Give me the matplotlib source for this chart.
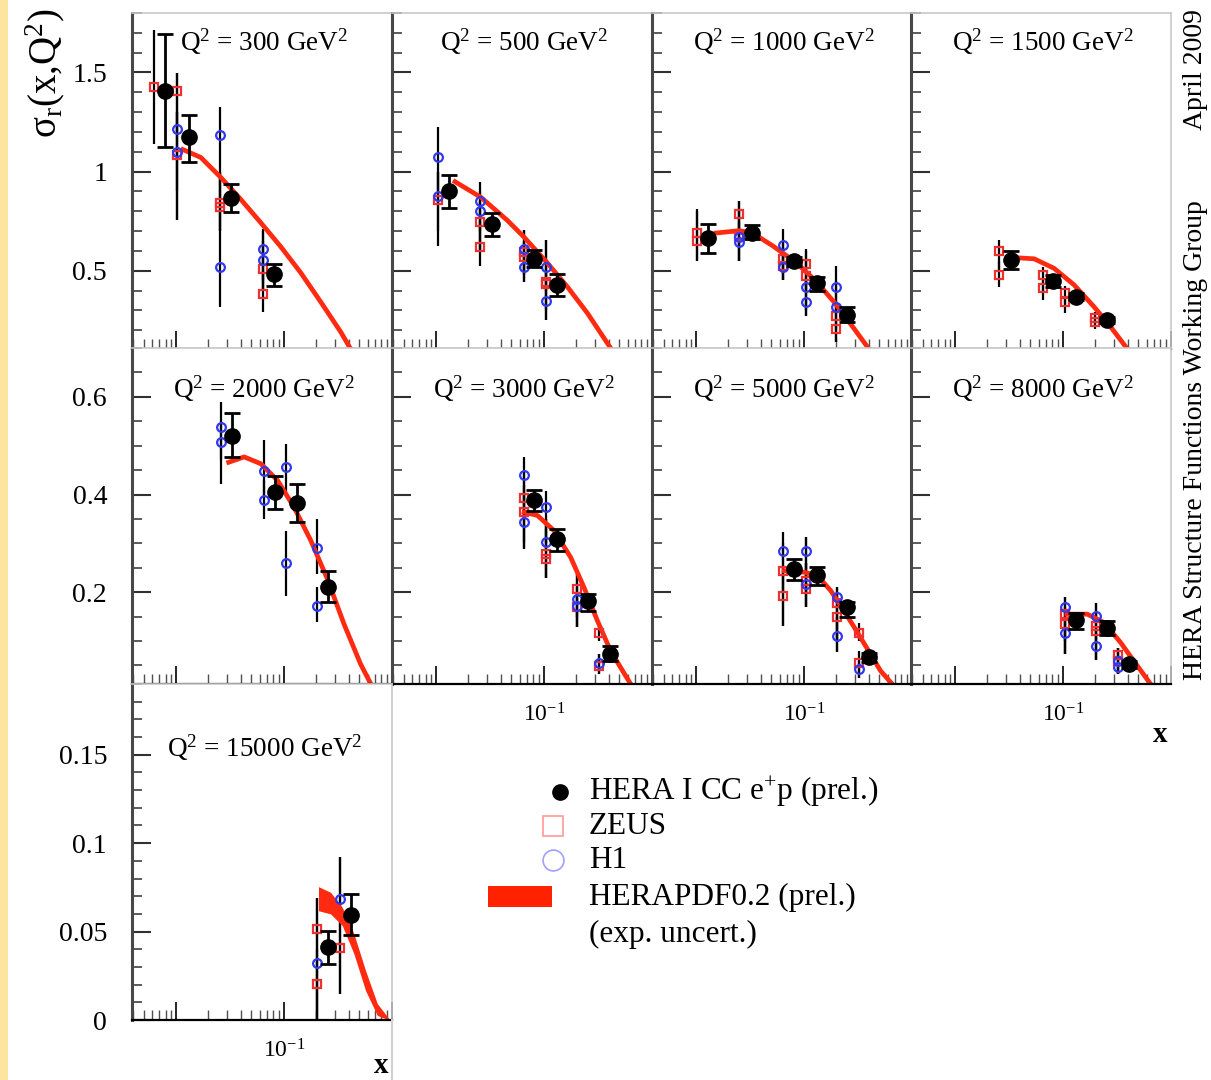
import numpy as np
import matplotlib
matplotlib.use("Agg")
import matplotlib.pyplot as plt
from matplotlib.ticker import FixedLocator, MultipleLocator, LogLocator, FuncFormatter, NullFormatter
from matplotlib.patches import Rectangle
from matplotlib.lines import Line2D

plt.rcParams['font.family'] = ['Liberation Serif', 'DejaVu Serif']
plt.rcParams['mathtext.fontset'] = 'custom'
plt.rcParams['mathtext.rm'] = 'Liberation Serif'
plt.rcParams['mathtext.it'] = 'Liberation Serif:italic'
plt.rcParams['mathtext.bf'] = 'Liberation Serif:bold'
plt.rcParams['mathtext.default'] = 'rm'

# Q2 bins, one panel each
q2_labels = ["300", "500", "1000", "1500", "2000", "3000", "5000", "8000", "15000"]

# HERA combined CC e+p points
hera_x = [[0.0079, 0.0132, 0.0323, 0.0807],
          [0.0131, 0.033, 0.0813, 0.134],
          [0.013, 0.0328, 0.0813, 0.132, 0.254],
          [0.033, 0.082, 0.132, 0.26],
          [0.0328, 0.0826, 0.134, 0.259],
          [0.0813, 0.134, 0.257, 0.414],
          [0.0813, 0.134, 0.254, 0.405],
          [0.132, 0.256, 0.411],
          [0.259, 0.417]]
hera_y = [[1.409, 1.172, 0.869, 0.485],
          [0.90, 0.736, 0.559, 0.429],
          [0.665, 0.69, 0.547, 0.436, 0.278],
          [0.554, 0.449, 0.369, 0.251],
          [0.52, 0.405, 0.383, 0.21],
          [0.388, 0.308, 0.181, 0.074],
          [0.248, 0.235, 0.169, 0.067],
          [0.144, 0.126, 0.052],
          [0.0412, 0.0594]]
hera_lo = [[1.126, 1.05, 0.798, 0.424],
           [0.817, 0.673, 0.517, 0.374],
           [0.587, 0.66, 0.525, 0.399, 0.239],
           [0.509, 0.416, 0.35, 0.235],
           [0.477, 0.371, 0.343, 0.179],
           [0.367, 0.285, 0.162, 0.06],
           [0.225, 0.215, 0.15, 0.058],
           [0.124, 0.113, 0.045],
           [0.0318, 0.0478]]
hera_hi = [[1.692, 1.283, 0.939, 0.535],
           [0.983, 0.791, 0.605, 0.483],
           [0.736, 0.732, 0.57, 0.466, 0.315],
           [0.601, 0.48, 0.39, 0.267],
           [0.566, 0.437, 0.422, 0.243],
           [0.41, 0.33, 0.196, 0.09],
           [0.268, 0.252, 0.179, 0.076],
           [0.158, 0.14, 0.059],
           [0.0506, 0.0713]]

# ZEUS points
zeus_x = [[0.00625, 0.0102, 0.0102, 0.0255, 0.0255, 0.064, 0.064],
          [0.0104, 0.0255, 0.0255, 0.065, 0.065, 0.104, 0.104],
          [0.0102, 0.0102, 0.0252, 0.0252, 0.0635, 0.0635, 0.104, 0.104, 0.199, 0.199],
          [0.0257, 0.0257, 0.0649, 0.0649, 0.105, 0.105, 0.2, 0.2],
          [],
          [0.0649, 0.0649, 0.1043, 0.1043, 0.205, 0.205, 0.325, 0.325],
          [0.0644, 0.0644, 0.104, 0.104, 0.202, 0.202, 0.325, 0.325],
          [0.105, 0.105, 0.202, 0.202, 0.325, 0.325],
          [0.205, 0.205, 0.330]]
zeus_y = [[1.429, 1.404, 1.086, 0.843, 0.823, 0.51, 0.384],
          [0.857, 0.744, 0.618, 0.592, 0.567, 0.441, 0.434],
          [0.690, 0.652, 0.786, 0.677, 0.559, 0.525, 0.534, 0.475, 0.273, 0.206],
          [0.601, 0.48, 0.48, 0.413, 0.39, 0.34, 0.261, 0.239],
          [],
          [0.393, 0.364, 0.278, 0.268, 0.206, 0.169, 0.116, 0.049],
          [0.243, 0.193, 0.222, 0.206, 0.177, 0.15, 0.117, 0.056],
          [0.155, 0.134, 0.131, 0.121, 0.072, 0.059],
          [0.0515, 0.0205, 0.0408]]
zeus_lo = [[1.141, 1.2, 0.758, 0.7, 0.7, 0.4, 0.293],
           [0.7, 0.6, 0.525, 0.48, 0.444, 0.3, 0.251],
           [0.55, 0.55, 0.7, 0.55, 0.455, 0.455, 0.4, 0.273, 0.2, 0.138],
           [0.5, 0.419, 0.4, 0.354, 0.33, 0.289, 0.23, 0.205],
           [],
           [0.3, 0.289, 0.23, 0.23, 0.15, 0.128, 0.1, 0.032],
           [0.131, 0.131, 0.169, 0.169, 0.077, 0.1, 0.1, 0.024],
           [0.073, 0.073, 0.062, 0.062, 0.032, 0.032],
           [0.0, 0.0, 0.0149]]
zeus_hi = [[1.712, 1.495, 1.3, 1.0, 1.0, 0.65, 0.5],
           [1.0, 0.85, 0.75, 0.706, 0.65, 0.56, 0.655],
           [0.812, 0.8, 0.854, 0.8, 0.65, 0.62, 0.61, 0.6, 0.35, 0.3],
           [0.655, 0.55, 0.517, 0.45, 0.424, 0.37, 0.29, 0.27],
           [],
           [0.45, 0.42, 0.35, 0.33, 0.237, 0.2, 0.13, 0.073],
           [0.3, 0.25, 0.312, 0.26, 0.21, 0.2, 0.137, 0.08],
           [0.19, 0.17, 0.177, 0.16, 0.086, 0.086],
           [0.069, 0.04, 0.0919]]

# H1 points
h1_x = [[0.0102, 0.0102, 0.0255, 0.0255, 0.064, 0.064],
        [0.0104, 0.0104, 0.0255, 0.0255, 0.065, 0.065, 0.104, 0.104],
        [0.0252, 0.0252, 0.0635, 0.0635, 0.104, 0.104, 0.199, 0.199],
        [],
        [0.0261, 0.0261, 0.0658, 0.0658, 0.104, 0.104, 0.205, 0.205],
        [0.0649, 0.0649, 0.1043, 0.1043, 0.205, 0.205, 0.325],
        [0.0644, 0.104, 0.104, 0.202, 0.202, 0.325],
        [0.105, 0.105, 0.202, 0.202, 0.325, 0.325],
        [0.205, 0.330]]
h1_y = [[1.217, 1.101, 1.187, 0.52, 0.611, 0.556],
        [1.072, 0.879, 0.854, 0.80, 0.61, 0.517, 0.517, 0.348],
        [0.668, 0.643, 0.63, 0.52, 0.416, 0.34, 0.416, 0.318],
        [],
        [0.539, 0.507, 0.449, 0.389, 0.456, 0.259, 0.291, 0.172],
        [0.44, 0.343, 0.374, 0.302, 0.186, 0.172, 0.054],
        [0.285, 0.284, 0.217, 0.191, 0.111, 0.042],
        [0.169, 0.117, 0.152, 0.09, 0.059, 0.046],
        [0.0321, 0.0684]]
h1_lo = [[0.9, 0.758, 0.86, 0.318, 0.45, 0.4],
         [0.9, 0.626, 0.7, 0.6, 0.5, 0.444, 0.4, 0.251],
         [0.55, 0.55, 0.5, 0.455, 0.3, 0.273, 0.3, 0.138],
         [],
         [0.47, 0.422, 0.40, 0.35, 0.40, 0.193, 0.237, 0.138],
         [0.35, 0.289, 0.3, 0.23, 0.128, 0.128, 0.032],
         [0.2, 0.2, 0.169, 0.1, 0.077, 0.024],
         [0.1, 0.073, 0.1, 0.062, 0.032, 0.032],
         [0.0, 0.0149]]
h1_hi = [[1.495, 1.3, 1.328, 0.84, 0.712, 0.7],
         [1.224, 1.0, 0.946, 0.9, 0.706, 0.6, 0.655, 0.5],
         [0.854, 0.75, 0.71, 0.6, 0.55, 0.45, 0.525, 0.45],
         [],
         [0.589, 0.55, 0.511, 0.43, 0.504, 0.326, 0.35, 0.21],
         [0.477, 0.4, 0.408, 0.35, 0.237, 0.21, 0.073],
         [0.323, 0.312, 0.26, 0.21, 0.15, 0.06],
         [0.19, 0.15, 0.177, 0.13, 0.086, 0.07],
         [0.069, 0.0919]]

# HERAPDF0.2 curve (panels 1-8, narrow band)
pdf_x = [[0.0116, 0.017, 0.0261, 0.040, 0.0612, 0.0938, 0.1436, 0.220, 0.337, 0.417],
         [0.015, 0.0261, 0.0461, 0.0657, 0.108, 0.166, 0.254, 0.417],
         [0.0153, 0.0252, 0.0335, 0.0513, 0.0843, 0.129, 0.198, 0.303, 0.403],
         [0.033, 0.0542, 0.083, 0.127, 0.195, 0.278, 0.397],
         [0.0308, 0.0429, 0.0612, 0.0875, 0.1245, 0.178, 0.254, 0.362, 0.516, 0.64],
         [0.0657, 0.0875, 0.1245, 0.178, 0.236, 0.314, 0.417, 0.516, 0.64],
         [0.0658, 0.1, 0.134, 0.178, 0.236, 0.314, 0.417, 0.516, 0.662],
         [0.109, 0.169, 0.241, 0.344, 0.457, 0.653]]
pdf_y = [[1.111, 1.071, 0.970, 0.859, 0.742, 0.621, 0.490, 0.343, 0.192, 0.106],
         [0.949, 0.870, 0.753, 0.669, 0.539, 0.418, 0.286, 0.110],
         [0.69, 0.702, 0.69, 0.626, 0.542, 0.449, 0.332, 0.197, 0.105],
         [0.567, 0.560, 0.512, 0.429, 0.318, 0.217, 0.106],
         [0.466, 0.477, 0.463, 0.429, 0.374, 0.306, 0.227, 0.135, 0.053, 0.013],
         [0.364, 0.357, 0.326, 0.271, 0.21, 0.142, 0.08, 0.046, 0.012],
         [0.244, 0.241, 0.234, 0.203, 0.162, 0.118, 0.073, 0.039, 0.012],
         [0.155, 0.155, 0.138, 0.097, 0.059, 0.012]]
# wide band in the Q2 = 15000 panel
band_x = [0.21, 0.272, 0.349, 0.448, 0.574, 0.738, 0.945]
band_lo = [0.0618, 0.06, 0.0534, 0.0374, 0.0167, 0.0026, 0.0]
band_hi = [0.0754, 0.0722, 0.0637, 0.0487, 0.028, 0.0093, 0.0008]

row_ylim = [(0.105, 1.8), (0.012, 0.70), (0.0, 0.19)]
row_major = [[0.5, 1.0, 1.5], [0.2, 0.4, 0.6], [0.0, 0.05, 0.1, 0.15]]
row_major_labels = [["0.5", "1", "1.5"], ["0.2", "0.4", "0.6"], ["0", "0.05", "0.1", "0.15"]]
row_minor = [0.1, 0.05, 0.01]
row_title_y = [0.915, 0.88, 0.81]

W, H = 1211, 1080
col_left = [132, 392, 652, 911]
row_top = [13, 348, 684]
pw, ph = 259.5, 336

RED = '#ff2a10'
ZRED = '#f03030'
HBLUE = '#3038f0'

fig = plt.figure(figsize=(W / 100, H / 100), dpi=100)

# yellow frame strip on the left
fig.patches.append(Rectangle((0, 0), 8 / W, 1, transform=fig.transFigure,
                             facecolor='#fce5a0', edgecolor='none', zorder=0))


def xfmt(v, pos):
    if abs(np.log10(v) + 1) < 1e-6:
        return r'10$^{-1}$'
    return ''


for p in range(9):
    row, col = p // 4, p % 4
    l = col_left[col] / W
    b = 1 - (row_top[row] + ph) / H
    ax = fig.add_axes([l, b, pw / W, ph / H])
    ax.set_xscale('log')
    ax.set_xlim(0.0039, 1.0)
    ax.set_ylim(*row_ylim[row])

    # ZEUS / H1 error bars and markers
    ax.vlines(zeus_x[p], zeus_lo[p], zeus_hi[p], color='k', lw=1.6, zorder=2)
    ax.vlines(h1_x[p], h1_lo[p], h1_hi[p], color='k', lw=1.6, zorder=2)

    if p < 8:
        ax.plot(pdf_x[p], pdf_y[p], color=RED, lw=3.4, zorder=2.5,
                solid_joinstyle='round')
    else:
        ax.fill_between(band_x, band_lo, band_hi, color=RED, lw=0, zorder=2.5)

    ax.plot(zeus_x[p], zeus_y[p], 's', ms=6.3, mfc='none', mec=ZRED, mew=1.6, zorder=3)
    ax.plot(h1_x[p], h1_y[p], 'o', ms=6.3, mfc='none', mec=HBLUE, mew=1.6, zorder=3)

    hy = np.array(hera_y[p])
    yerr = [hy - np.array(hera_lo[p]), np.array(hera_hi[p]) - hy]
    ax.errorbar(hera_x[p], hy, yerr=yerr, fmt='o', color='k', ms=11,
                elinewidth=2, capsize=5.5, capthick=2, zorder=4)

    ax.text(0.51, row_title_y[row], 'Q$^2$ = %s GeV$^2$' % q2_labels[p],
            transform=ax.transAxes, ha='center', va='center', fontsize=19.5)

    # ticks
    ax.yaxis.set_major_locator(FixedLocator(row_major[row]))
    ax.yaxis.set_minor_locator(MultipleLocator(row_minor[row]))
    ax.xaxis.set_major_locator(LogLocator(base=10))
    ax.xaxis.set_minor_locator(LogLocator(base=10, subs=np.arange(2, 10)))
    ax.xaxis.set_minor_formatter(NullFormatter())
    ax.tick_params(axis='y', which='major', direction='in', length=14, width=1.5,
                   color='#303030', labelsize=20, pad=18)
    ax.tick_params(axis='y', which='minor', direction='in', length=7.5, width=1.2,
                   color='#404040')
    ax.tick_params(axis='x', which='major', direction='in', length=13, width=1.2,
                   labelsize=17, pad=14)
    ax.tick_params(axis='x', which='minor', direction='in', length=7, width=1.0,
                   color='#505050')

    if col == 0:
        ax.set_yticklabels(row_major_labels[row])
    else:
        ax.set_yticklabels([])
    show_x = (row == 1 and col > 0) or row == 2
    if show_x:
        ax.xaxis.set_major_formatter(FuncFormatter(xfmt))
    else:
        ax.xaxis.set_major_formatter(NullFormatter())

    ax.spines['left'].set_color('#484848')
    ax.spines['left'].set_linewidth(2.2)
    ax.spines['bottom'].set_color('k')
    ax.spines['bottom'].set_linewidth(1.6)
    for s in ('top', 'right'):
        ax.spines[s].set_color('#c8c8c8')
        ax.spines[s].set_linewidth(1.2)

    if row == 1 and col == 3:
        ax.text(0.96, -0.15, 'x', transform=ax.transAxes, ha='center', va='center',
                fontsize=21, fontweight='bold')
    if row == 2:
        ax.text(0.96, -0.134, 'x', transform=ax.transAxes, ha='center', va='center',
                fontsize=21, fontweight='bold')

# gray edge below the lower-left panel
fig.add_artist(Line2D([392 / W, 392 / W], [0, 1 - 1020 / H], transform=fig.transFigure,
                      color='#d0d0d0', lw=1.5))

# axis title and side texts
fig.text(45 / W, 1 - 8 / H, r'$\sigma_{r}$(x,Q$^2$)', rotation=90, ha='center',
         va='top', fontsize=28)
fig.text(1196 / W, 1 - 70 / H, 'April 2009', rotation=90, ha='center', va='center',
         fontsize=20)
fig.text(1196 / W, 1 - 440 / H, 'HERA Structure Functions Working Group', rotation=90,
         ha='center', va='center', fontsize=20)

# legend
lg = fig.add_axes([0, 0, 1, 1], facecolor='none')
lg.set_xlim(0, W)
lg.set_ylim(H, 0)
lg.axis('off')
lg.plot([560], [792], 'o', color='k', ms=11)
lg.plot([553], [826], 's', ms=15, mfc='none', mec='#ff9a9a', mew=1.2)
lg.plot([553], [860], 'o', ms=15, mfc='none', mec='#a0a0ff', mew=1.2)
lg.add_patch(Rectangle((488, 886), 64, 21, facecolor='#ff2200', edgecolor='none'))
legend_labels = ['HERA I CC e$^{+}$p (prel.)', 'ZEUS', 'H1', 'HERAPDF0.2 (prel.)', '(exp. uncert.)']
legend_rows = [792, 826, 860, 897, 934]
for lab, yy in zip(legend_labels, legend_rows):
    lg.text(589, yy, lab, ha='left', va='center', fontsize=22.5)

fig.savefig('out.png', dpi=100)
